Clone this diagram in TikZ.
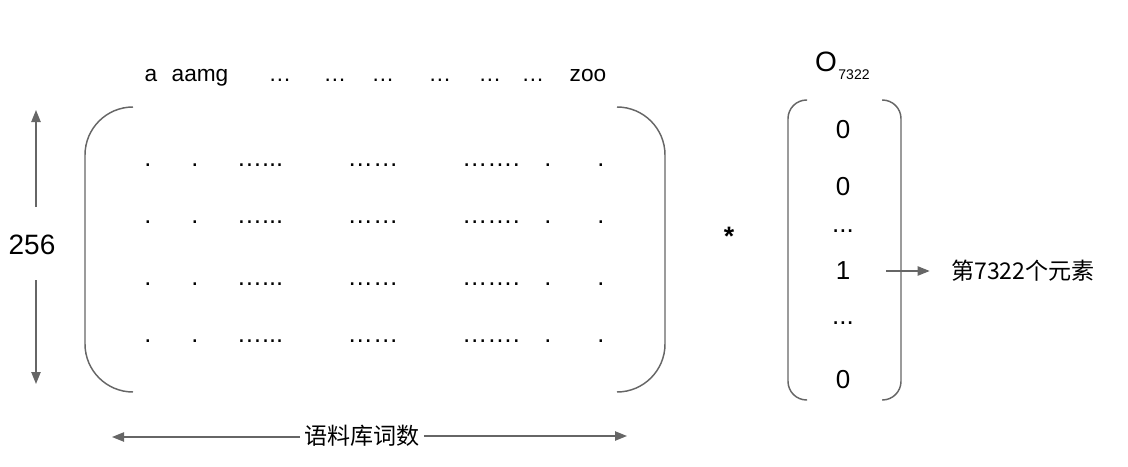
\documentclass[tikz,border=0pt]{standalone}
\usepackage{fontspec}
\setmainfont{Liberation Sans}
\newfontfamily\cjk{Noto Sans CJK SC}
\usetikzlibrary{arrows.meta}
\definecolor{lg}{HTML}{666666}
\tikzset{
  every node/.style={inner sep=0pt, anchor=center},
  hdr/.style={font=\fontsize{17}{18}\selectfont, anchor=base},
  cell/.style={font=\fontsize{19}{20}\selectfont, anchor=base},
  vec/.style={font=\fontsize{19.5}{21}\selectfont},
  brk/.style={draw=lg, line width=1.1pt},
  arr/.style={draw=lg, line width=1pt, -{Triangle[length=9pt,width=7pt]}},
  cjkt/.style={font=\cjk\fontsize{17.3}{19}\selectfont},
}
\begin{document}
\begin{tikzpicture}[x=0.75pt,y=-0.75pt]
\useasboundingbox (0,0) rectangle (1128,467);
% header words
\node[hdr] (ha) at (151,82) {a};
\node[hdr] (hb) at (200,82) {aamg};
\foreach \x/\n in {280/1,335/2,383/3,440/4,490/5,533/6}
  \node[hdr] (hd\n) at (\x,82) {…};
\node[hdr] (hz) at (588,82) {zoo};
% big matrix brackets
\draw[brk, rounded corners=36pt] (133,107) -- (85,107) -- (85,392) -- (133,392);
\draw[brk, rounded corners=36pt] (617,107) -- (665,107) -- (665,392) -- (617,392);
% matrix rows
\foreach \y/\r in {166/1,223/2,285/3,342/4}{
  \node[cell] (c\r a) at (148,\y) {.};
  \node[cell] (c\r b) at (195,\y) {.};
  \node[cell] (c\r c) at (260,\y) {…...};
  \node[cell] (c\r d) at (373,\y) {……};
  \node[cell] (c\r e) at (491,\y) {…….};
  \node[cell] (c\r f) at (548,\y) {.};
  \node[cell] (c\r g) at (601,\y) {.};
}
% 256 arrows
\node[vec, font=\fontsize{21}{23}\selectfont] (n256) at (32,245) {256};
\coordinate (u0) at (36,207);
\coordinate (u1) at (36,110);
\coordinate (d0) at (36,280);
\coordinate (d1) at (36,384);
\draw[arr] (u0) -- (u1);
\draw[arr] (d0) -- (d1);
% bottom label
\node[cjkt] (corp) at (362,436) {语料库词数};
\coordinate (l1) at (112,437);
\coordinate (r1) at (627,436);
\draw[arr] (corp.west) ++(-4,1) -- (l1);
\draw[arr] (corp.east) ++(4,0) -- (r1);
% star
\node[font=\fontsize{20}{22}\selectfont\bfseries] (star) at (729,236) {*};
% vector label
\node[vec, font=\fontsize{21}{23}\selectfont] (o) at (826,62) {O};
\node[font=\fontsize{10.5}{12}\selectfont] (osub) at (854,75) {7322};
% vector brackets
\draw[brk, rounded corners=14pt] (807,100) -- (788,100) -- (788,400) -- (807,400);
\draw[brk, rounded corners=14pt] (882,100) -- (901,100) -- (901,400) -- (882,400);
% vector entries
\node[vec] (v1) at (843,130) {0};
\node[vec] (v2) at (843,187) {0};
\node[vec] (v3) at (843,231) {...};
\node[vec] (v4) at (843,271) {1};
\node[vec] (v5) at (843,323) {...};
\node[vec] (v6) at (843,380) {0};
% arrow to label
\node[cjkt, anchor=west] (lab) at (951,271) {第7322个元素};
\coordinate (a0) at (886,271);
\draw[arr] (a0) -- ([xshift=-16pt]lab.west);
\end{tikzpicture}
\end{document}
